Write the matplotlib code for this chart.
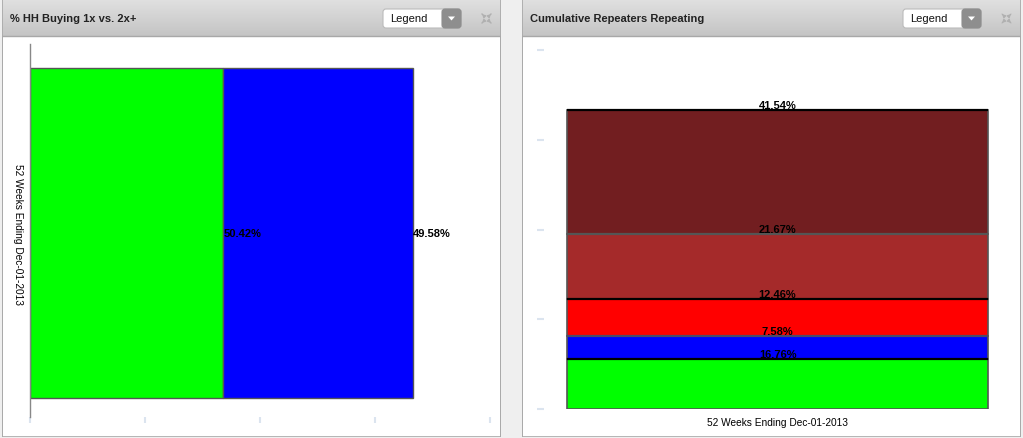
import matplotlib
matplotlib.use("Agg")
import matplotlib.pyplot as plt
import numpy as np
from matplotlib.patches import Rectangle, FancyBboxPatch, Polygon

plt.rcParams['font.family'] = ['Liberation Sans', 'DejaVu Sans']

# ---------------- data ----------------
left_title = "% HH Buying 1x vs. 2x+"
right_title = "Cumulative Repeaters Repeating"
category = "52 Weeks Ending Dec-01-2013"

left_series = ["1x", "2x+"]
left_values = [50.42, 49.58]
left_colors = ["#00ff00", "#0000ff"]

right_series = ["1", "2", "3", "4", "5+"]
right_values = [16.76, 7.58, 12.46, 21.67, 41.54]
right_colors = ["#00ff00", "#0000ff", "#ff0000", "#a52a2a", "#721e20"]
right_top_edges = ["black", "#4a4a6a", "black", "#555555", "black"]

axis_ticks = [0, 30, 60, 90, 120]

# ---------------- layout helpers ----------------
W, H = 1023, 439
fig = plt.figure(figsize=(W / 100, H / 100), dpi=100)
fig.patch.set_facecolor("#efefef")


def rect(x0, y0, x1, y1):
    return [x0 / W, 1 - y1 / H, (x1 - x0) / W, (y1 - y0) / H]


def panel(x0, x1, title):
    body = fig.add_axes(rect(x0, 0, x1, H - 1))
    body.set_xlim(0, x1 - x0)
    body.set_ylim(H - 1, 0)
    body.axis("off")
    body.add_patch(Rectangle((0, 0), x1 - x0, H - 1, facecolor="white",
                             edgecolor="#a8a8a8", linewidth=1.2))
    grad = np.linspace(0.88, 0.77, 64).reshape(-1, 1)
    body.imshow(np.dstack([grad, grad, grad]), extent=(0, x1 - x0, 37, 0),
                aspect="auto", zorder=1)
    body.plot([0, x1 - x0], [37, 37], color="#a8a8a8", lw=1, zorder=2)
    body.plot([0, 0, x1 - x0, x1 - x0], [H - 1, 0, 0, H - 1],
              color="#a8a8a8", lw=1.2, zorder=3)
    body.text(8, 19, title, fontsize=8, fontweight="bold", color="#222222",
              va="center", ha="left", zorder=4)
    # legend dropdown
    lx = x1 - x0 - 118
    body.add_patch(FancyBboxPatch((lx, 10), 78, 19,
                                  boxstyle="round,pad=0,rounding_size=3",
                                  facecolor="white", edgecolor="#bbbbbb",
                                  lw=0.8, zorder=4))
    body.add_patch(FancyBboxPatch((lx + 59, 10), 19, 19,
                                  boxstyle="round,pad=0,rounding_size=3",
                                  facecolor="#8e8e8e", edgecolor="#8e8e8e",
                                  lw=0.8, zorder=5))
    body.add_patch(Polygon([[lx + 65, 17.5], [lx + 72, 17.5], [lx + 68.5, 21.5]],
                           closed=True, facecolor="white", edgecolor="none",
                           zorder=6))
    body.text(lx + 7, 19.5, "Legend", fontsize=8, va="center", ha="left",
              color="#111111", zorder=6)
    # expand icon (four small arrows)
    ix = x1 - x0 - 21
    arrows = [((ix + 4, 17), (ix, 13)), ((ix + 9, 17), (ix + 13, 13)),
              ((ix + 4, 22), (ix, 26)), ((ix + 9, 22), (ix + 13, 26))]
    for start, end in arrows:
        body.annotate("", xy=end, xytext=start,
                      arrowprops=dict(arrowstyle="-|>", color="#b0b0b0",
                                      lw=0.8, mutation_scale=5),
                      zorder=6)
    return body


panel(2, 501, left_title)
panel(522, 1021, right_title)

tick_color = "#dbe4ef"

# ---------------- left chart ----------------
axL = fig.add_axes(rect(30, 45, 490, 418))
axL.set_xlim(axis_ticks[0], axis_ticks[-1])
axL.set_ylim(-(418 - 234) / 373, (234 - 45) / 373)
left_start = 0
for v, c in zip(left_values, left_colors):
    axL.barh(0, v, left=left_start, height=330 / 373, color=c,
             edgecolor="#555555", linewidth=1, zorder=2)
    axL.text(left_start + v, 0, f"{v:.2f}%", fontsize=8, fontweight="bold",
             ha="left", va="center", color="black", zorder=3)
    left_start += v
axL.set_facecolor("none")
for s in ["top", "right", "bottom"]:
    axL.spines[s].set_visible(False)
axL.spines["left"].set_color("#888888")
axL.spines["left"].set_linewidth(1)
axL.set_xticks(axis_ticks)
axL.set_xticklabels([])
axL.tick_params(axis="x", length=4, color=tick_color, width=1.5, direction="out")
axL.set_yticks([0])
axL.set_yticklabels([category], rotation=-90, va="center", ha="center",
                    fontsize=7.3)
axL.tick_params(axis="y", length=0, pad=9)

# ---------------- right chart ----------------
axR = fig.add_axes(rect(544, 51, 1011, 410))
axR.set_xlim(-0.5, 0.5)
axR.set_ylim(axis_ticks[0], axis_ticks[-1])
bar_w = 421 / 467
bottom = 0
for v, c in zip(right_values, right_colors):
    axR.bar(0, v, bottom=bottom, width=bar_w, color=c, edgecolor="#555555",
            linewidth=1.2, zorder=2)
    bottom += v
bottom = 0
for v, e in zip(right_values, right_top_edges):
    bottom += v
    axR.hlines(bottom, -bar_w / 2, bar_w / 2, color=e, lw=1.6, zorder=3)
    axR.annotate(f"{v:.2f}%", (0, bottom), xytext=(0, 0),
                 textcoords="offset points", ha="center", va="bottom",
                 fontsize=8, fontweight="bold", color="black", zorder=4)
axR.set_facecolor("none")
for s in axR.spines.values():
    s.set_visible(False)
axR.set_yticks(axis_ticks)
axR.set_yticklabels([])
axR.tick_params(axis="y", length=5, color=tick_color, width=1.5, direction="out")
axR.set_xticks([0])
axR.set_xticklabels([category], fontsize=7.3)
axR.tick_params(axis="x", length=0, pad=6)

fig.savefig("out.png", dpi=100, facecolor=fig.get_facecolor())
